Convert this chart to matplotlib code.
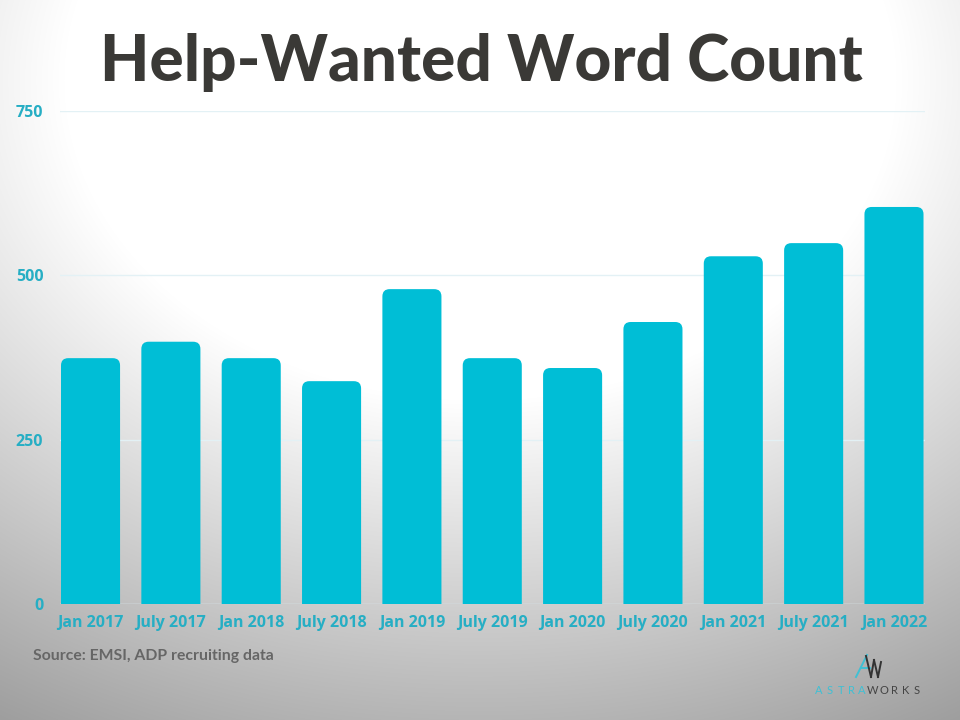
import numpy as np
import matplotlib
matplotlib.use("Agg")
import matplotlib.pyplot as plt
from matplotlib.patches import FancyBboxPatch
from matplotlib.lines import Line2D

periods = ['Jan 2017', 'July 2017', 'Jan 2018', 'July 2018', 'Jan 2019', 'July 2019',
           'Jan 2020', 'July 2020', 'Jan 2021', 'July 2021', 'Jan 2022']
word_count = [374, 399, 374, 339, 479, 374, 359, 429, 529, 549, 604]
y_ticks = [0, 250, 500, 750]

bar_color = '#00bed6'
tick_color = '#26aec4'
title_color = '#3a3936'

W, H = 960, 720
fig = plt.figure(figsize=(W / 100, H / 100), dpi=100)

# background: soft white-to-grey radial glow
bg = fig.add_axes([0, 0, 1, 1])
yy, xx = np.mgrid[0:H, 0:W]
r = np.sqrt(((xx - 480) / 1.3) ** 2 + (yy - 80) ** 2)
shade = 1 - 0.4 * np.clip((r - 320) / 440, 0, 1)
bg.imshow(np.dstack([shade] * 3), extent=[0, 1, 0, 1], aspect='auto', interpolation='bilinear')
bg.set_axis_off()

ax = fig.add_axes([60 / W, 1 - 604 / H, 865 / W, 493 / H])
ax.patch.set_alpha(0)
x = np.arange(len(periods))
ax.set_xlim(-0.38, len(periods) - 1 + 0.386)
ax.set_ylim(0, 750)

# rounded top corners: patches start below 0 so the bottom rounding is clipped
px_per_x = 865 / (ax.get_xlim()[1] - ax.get_xlim()[0])
px_per_y = 493 / 750
bw = 0.735
for xi, v in zip(x, word_count):
    p = FancyBboxPatch((xi - bw / 2, -20), bw, v + 20,
                       boxstyle="round,pad=0,rounding_size=0.09",
                       mutation_aspect=px_per_x / px_per_y,
                       fc=bar_color, ec='none', zorder=3, clip_on=True)
    ax.add_patch(p)

ax.set_yticks(y_ticks)
ax.set_xticks(x)
ax.set_xticklabels(periods)
ax.grid(axis='y', color='#e3f1f5', lw=1, zorder=0)
ax.axhline(0, color='#c9d3d6', lw=1, zorder=2)
for s in ax.spines.values():
    s.set_visible(False)
ax.tick_params(length=0)
ax.tick_params(axis='y', pad=12)
ax.tick_params(axis='x', pad=8)
for lab in ax.get_yticklabels():
    lab.set_fontfamily(['Open Sans', 'DejaVu Sans'])
    lab.set_fontweight('bold')
    lab.set_fontsize(11.5)
    lab.set_color(tick_color)
for lab in ax.get_xticklabels():
    lab.set_fontfamily(['Open Sans', 'DejaVu Sans'])
    lab.set_fontweight('bold')
    lab.set_fontsize(11.5)
    lab.set_color(tick_color)

fig.text(481 / W, 1 - 62 / H, 'Help-Wanted Word Count', ha='center', va='center',
         fontsize=46, fontweight='black', family=['Lato', 'DejaVu Sans'], color=title_color)

fig.text(33 / W, 1 - 656 / H, 'Source: EMSI, ADP recruiting data', ha='left', va='center',
         fontsize=11.3, fontweight='bold', family=['Lato', 'DejaVu Sans'], color='#666666')

# logo mark
def seg(x0, y0, x1, y1, c, lw=1.4):
    fig.add_artist(Line2D([x0 / W, x1 / W], [1 - y0 / H, 1 - y1 / H], color=c, lw=lw,
                          transform=fig.transFigure))

seg(856, 677, 867, 655, '#3fc0d4')
seg(862, 668, 870, 668, '#3fc0d4')
seg(866, 656, 871, 677, '#333333')
seg(871, 677, 874, 660, '#333333')
seg(874, 660, 878, 677, '#333333')
seg(878, 677, 881, 662, '#333333')

logo = 'ASTRAWORKS'
for i, ch in enumerate(logo):
    fig.text((819 + i * 10.8) / W, 1 - 691 / H, ch, ha='center', va='center', fontsize=8,
             family=['Lato', 'DejaVu Sans'], color='#3fc0d4' if i < 5 else '#444444')

fig.savefig('out.png', dpi=100)
